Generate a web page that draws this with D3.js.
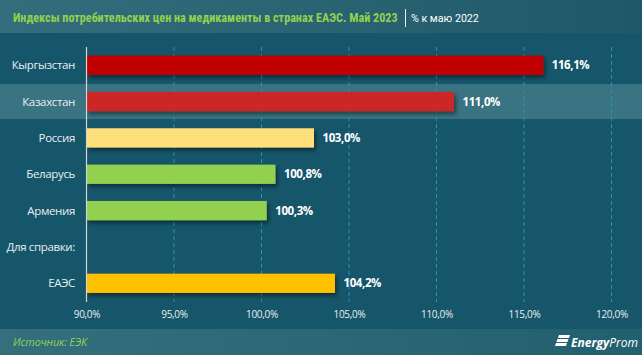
<!DOCTYPE html>
<html><head><meta charset="utf-8">
<script src="https://cdn.jsdelivr.net/npm/d3@7"></script>
<style>html,body{margin:0;padding:0;background:#16566a;}svg{display:block;}</style>
</head><body>
<svg id="c" width="642" height="355"></svg>
<script>
const categories = ["Кыргызстан","Казахстан","Россия","Беларусь","Армения","Для справки:","ЕАЭС"];
const values = [116.1, 111.0, 103.0, 100.8, 100.3, null, 104.2];
const barColors = ["#c00000","#cc2828","#ffdf7a","#92d050","#92d050",null,"#ffc000"];
const tickValues = [90,95,100,105,110,115,120];
const highlighted = "Казахстан";
const titleMain = "Индексы потребительских цен на медикаменты в странах ЕАЭС. Май 2023";
const titleSub = "% к маю 2022";
const sourceText = "Источник: ЕЭК";

const W = 642, H = 355;
const svg = d3.select("#c");
const defs = svg.append("defs");
const hg = defs.append("linearGradient").attr("id","hg").attr("x1","0").attr("x2","1");
hg.append("stop").attr("offset","0").attr("stop-color","#346e7c");
hg.append("stop").attr("offset","1").attr("stop-color","#1f5969");
const fg = defs.append("linearGradient").attr("id","fg").attr("x1","0").attr("x2","1");
fg.append("stop").attr("offset","0").attr("stop-color","#356f7d");
fg.append("stop").attr("offset","1").attr("stop-color","#22606f");
const sh = defs.append("filter").attr("id","sh").attr("x","-5%").attr("y","-30%").attr("width","115%").attr("height","180%");
sh.append("feDropShadow").attr("dx",2).attr("dy",3).attr("stdDeviation",2).attr("flood-color","#000").attr("flood-opacity",0.45);

svg.append("rect").attr("width",W).attr("height",H).attr("fill","#16566a");
svg.append("rect").attr("width",W).attr("height",33).attr("fill","url(#hg)");
svg.append("rect").attr("y",329).attr("width",W).attr("height",H-329).attr("fill","url(#fg)");

const x = d3.scaleLinear().domain([90,120]).range([86.5,611.5]);
const y = d3.scaleBand().domain(categories).range([47,301.5]).paddingInner(0.47).paddingOuter(0.235);

// highlight row
const hy = y(highlighted) + y.bandwidth()/2;
svg.append("rect").attr("x",0).attr("width",W).attr("y",hy-17.5).attr("height",35).attr("fill","#3a7381");

// grid
svg.append("g").selectAll("line").data(tickValues.slice(1)).join("line")
  .attr("x1",d=>x(d)).attr("x2",d=>x(d)).attr("y1",47).attr("y2",302)
  .attr("stroke","#2d8fae").attr("stroke-width",1).attr("stroke-dasharray","4,3");

// bars
const data = categories.map((c,i)=>({c,v:values[i],col:barColors[i]})).filter(d=>d.v!=null);
svg.append("g").selectAll("rect").data(data).join("rect")
  .attr("x",x(90)).attr("y",d=>y(d.c)).attr("width",d=>x(d.v)-x(90)).attr("height",y.bandwidth())
  .attr("fill",d=>d.col).attr("filter","url(#sh)");

// axis baseline
svg.append("line").attr("x1",x(90)).attr("x2",x(90)).attr("y1",47).attr("y2",302).attr("stroke","#d0d6d8").attr("stroke-width",1.2);

// value labels
const fmt = v => d3.format(".1f")(v).replace(".",",") + "%";
svg.append("g").selectAll("text").data(data).join("text")
  .attr("x",d=>x(d.v)+8.5).attr("y",d=>y(d.c)+y.bandwidth()/2).attr("dy","0.35em")
  .attr("fill","#ffffff").attr("font-family","Open Sans, sans-serif").attr("font-weight",700).attr("font-size",11.5)
  .attr("letter-spacing",-0.4)
  .text(d=>fmt(d.v));

// category labels
svg.append("g").selectAll("text").data(categories).join("text")
  .attr("x",75).attr("y",d=>y(d)+y.bandwidth()/2).attr("dy","0.35em").attr("text-anchor","end")
  .attr("fill","#e8eeef").attr("font-family","Open Sans, sans-serif").attr("font-size",11.5).attr("letter-spacing",-0.35)
  .text(d=>d);

// x axis ticks
const axis = d3.axisBottom(x).tickValues(tickValues).tickSize(0).tickPadding(0).tickFormat(fmt);
const ag = svg.append("g").attr("transform","translate(0,311)").call(axis);
ag.select(".domain").remove();
ag.selectAll("text").attr("fill","#e8eeef").attr("font-family","Open Sans, sans-serif").attr("font-size",10).attr("letter-spacing",-0.3);

// title, fitted by font size
function fitText(sel, target) {
  const fs = +sel.attr("font-size");
  const w = sel.node().getComputedTextLength();
  sel.attr("font-size", Math.min(15, fs * target / w));
}
const t1 = svg.append("text").attr("x",13).attr("y",22).attr("fill","#92d050")
  .attr("font-family","Liberation Sans Narrow, Roboto Condensed, Roboto, sans-serif").attr("font-weight",700).attr("font-size",14)
  .text(titleMain);
fitText(t1, 385);
svg.append("line").attr("x1",405.5).attr("x2",405.5).attr("y1",9).attr("y2",27).attr("stroke","#e8eeef").attr("stroke-width",1);
const t2 = svg.append("text").attr("x",411).attr("y",22).attr("fill","#ffffff")
  .attr("font-family","Liberation Sans Narrow, Roboto, sans-serif").attr("font-size",14).text(titleSub);
fitText(t2, 68);

// footer
svg.append("text").attr("x",13).attr("y",346).attr("fill","#92d050").attr("font-style","italic")
  .attr("font-family","Open Sans, sans-serif").attr("font-size",11).attr("letter-spacing",-0.2).text(sourceText);

// logo
const lg = svg.append("g").attr("transform","translate(555,335)");
[[3,0,12],[1.5,4,12],[0,8,12]].forEach(([dx,dy,w])=>{
  lg.append("path").attr("d",`M${dx+1},${dy} L${dx+w},${dy} L${dx+w-1},${dy+3} L${dx},${dy+3} Z`).attr("fill","#ffffff");
});
svg.append("text").attr("x",571).attr("y",347).attr("fill","#ffffff").attr("font-style","italic")
  .attr("font-family","Open Sans, sans-serif").attr("font-size",12)
  .call(t=>{t.append("tspan").attr("font-weight",700).text("Energy");t.append("tspan").text("Prom");});
</script>
</body></html>
